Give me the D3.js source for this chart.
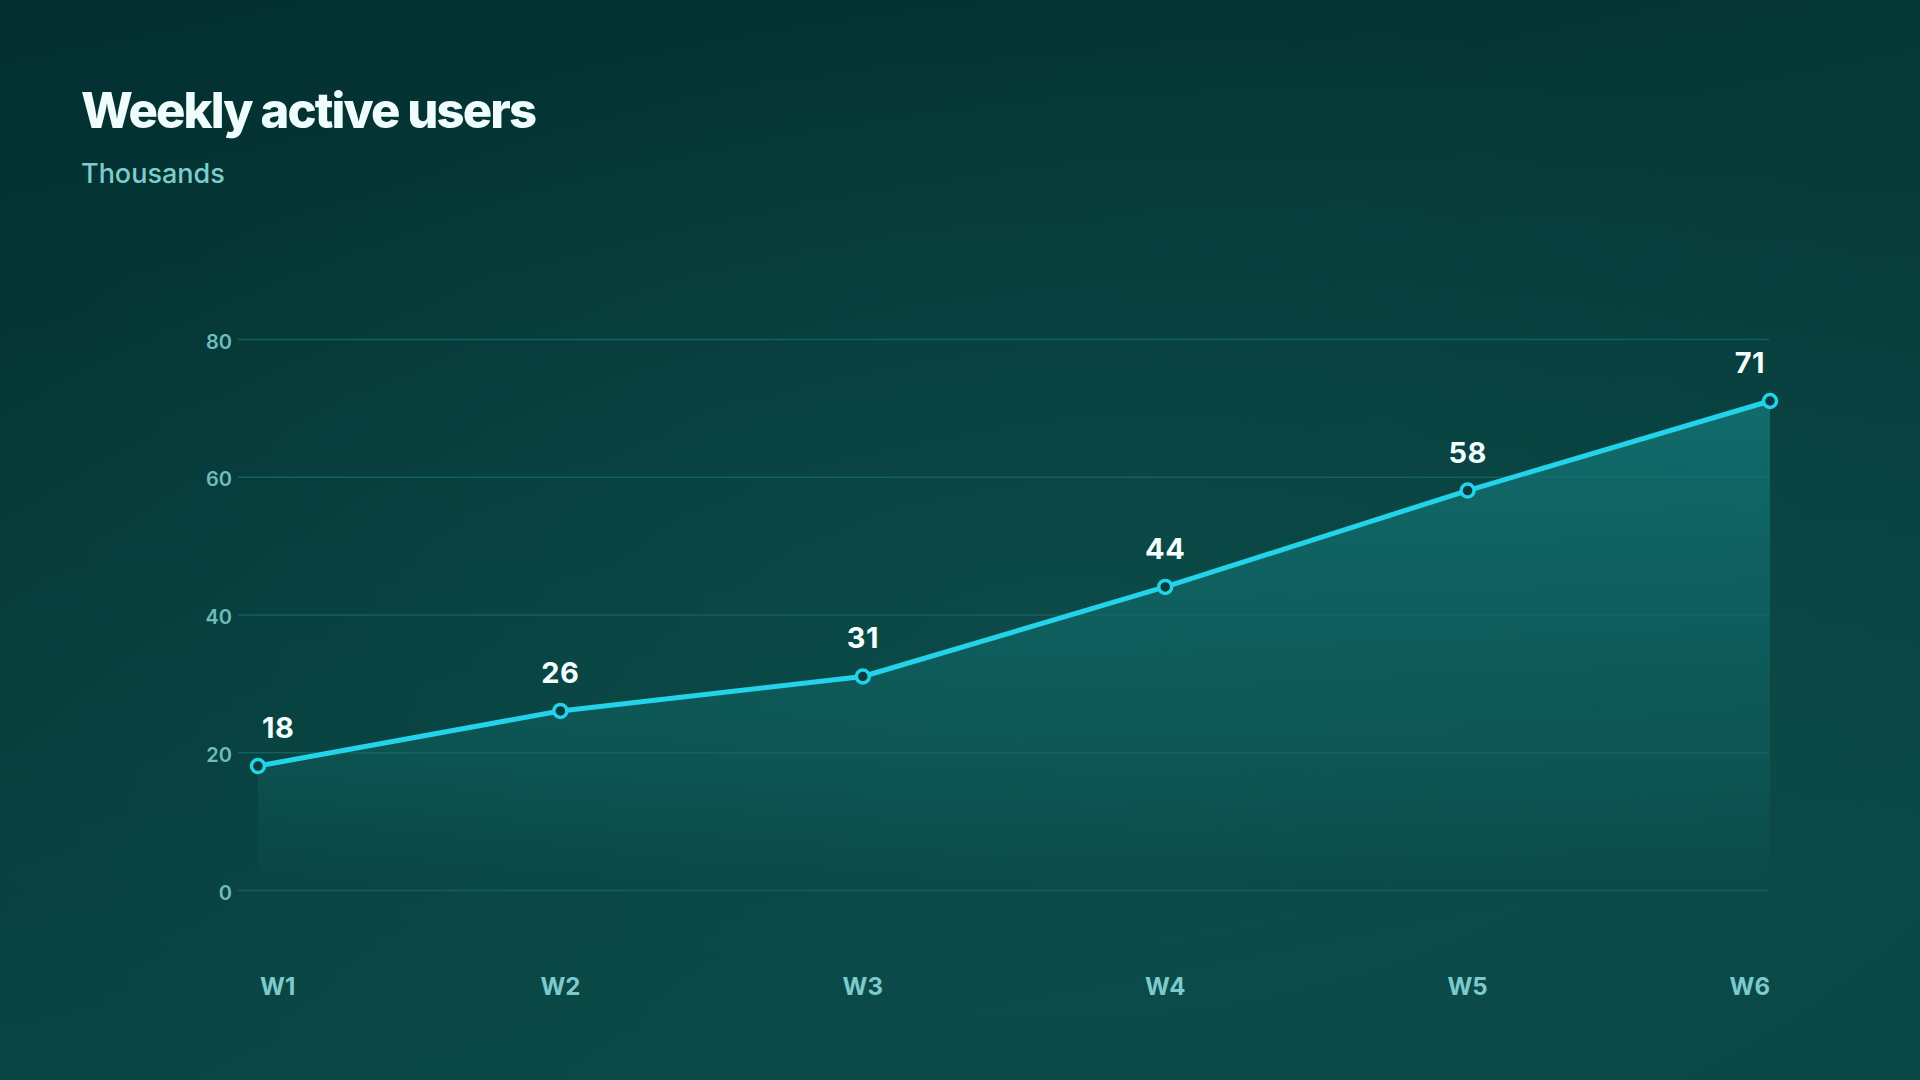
<!DOCTYPE html>
<html>
<head>
<meta charset="utf-8">
<script src="https://cdn.jsdelivr.net/npm/d3@7"></script>
<style>
  html, body { margin: 0; padding: 0; background: #05312f; }
  svg { display: block; }
</style>
</head>
<body>
<svg></svg>
<script>
const weeks = ["W1", "W2", "W3", "W4", "W5", "W6"];
const users = [18, 26, 31, 44, 58, 71];
const yTicks = [0, 20, 40, 60, 80];

const width = 1920;
const height = 1080;

const svg = d3.select("svg")
    .attr("width", width)
    .attr("height", height)
    .attr("viewBox", [0, 0, width, height])
    .style("font-family", "Inter, 'Noto Sans', sans-serif");

const defs = svg.append("defs");

const bg = defs.append("linearGradient")
    .attr("id", "bg")
    .attr("x1", 0).attr("y1", 0).attr("x2", 0.35).attr("y2", 1);
bg.append("stop").attr("offset", "0%").attr("stop-color", "#032f2f");
bg.append("stop").attr("offset", "100%").attr("stop-color", "#0a4846");

const glow = defs.append("radialGradient")
    .attr("id", "glow")
    .attr("cx", 0.55).attr("cy", 0.6).attr("r", 0.6);
glow.append("stop").attr("offset", "0%").attr("stop-color", "#0e5552").attr("stop-opacity", 0.5);
glow.append("stop").attr("offset", "100%").attr("stop-color", "#0e5552").attr("stop-opacity", 0);

svg.append("rect").attr("width", width).attr("height", height).attr("fill", "url(#bg)");
svg.append("rect").attr("width", width).attr("height", height).attr("fill", "url(#glow)");

const x = d3.scalePoint()
    .domain(weeks)
    .range([258, 1770]);

const y = d3.scaleLinear()
    .domain([0, 80])
    .range([890, 339]);

const areaFill = defs.append("linearGradient")
    .attr("id", "areaFill")
    .attr("gradientUnits", "userSpaceOnUse")
    .attr("x1", 0).attr("y1", y(71)).attr("x2", 0).attr("y2", y(0));
areaFill.append("stop").attr("offset", "0%").attr("stop-color", "#137374").attr("stop-opacity", 0.85);
areaFill.append("stop").attr("offset", "75%").attr("stop-color", "#116b6b").attr("stop-opacity", 0.35);
areaFill.append("stop").attr("offset", "100%").attr("stop-color", "#116b6b").attr("stop-opacity", 0.0);

// title
svg.append("text")
    .attr("x", 81)
    .attr("y", 128)
    .attr("fill", "#effdfd")
    .attr("font-size", 49)
    .attr("font-weight", 800)
    .attr("letter-spacing", -1.9)
    .text("Weekly active users");

svg.append("text")
    .attr("x", 81)
    .attr("y", 183)
    .attr("fill", "#7ecdcd")
    .attr("font-size", 27)
    .attr("font-weight", 500)
    .text("Thousands");

// grid
const yAxis = svg.append("g")
    .attr("transform", "translate(238,0)")
    .call(d3.axisLeft(y).tickValues(yTicks).tickSize(-(1769 - 238)).tickPadding(6));
yAxis.select(".domain").remove();
yAxis.selectAll(".tick line")
    .attr("stroke", "#12605f")
    .attr("stroke-width", 1.5);
yAxis.selectAll(".tick text")
    .attr("fill", "#6fbcbd")
    .attr("font-size", 20)
    .attr("font-weight", 600)
    .attr("dy", "0.45em")
    .attr("font-family", "Inter, 'Noto Sans', sans-serif");

const data = weeks.map((w, i) => ({ week: w, value: users[i], i }));

const area = d3.area()
    .x(d => x(d.week))
    .y0(y(0))
    .y1(d => y(d.value));

svg.append("path")
    .datum(data)
    .attr("d", area)
    .attr("fill", "url(#areaFill)");

const line = d3.line()
    .x(d => x(d.week))
    .y(d => y(d.value));

svg.append("path")
    .datum(data)
    .attr("d", line)
    .attr("fill", "none")
    .attr("stroke", "#22d3ea")
    .attr("stroke-width", 5)
    .attr("stroke-linejoin", "round");

svg.selectAll("circle.pt")
    .data(data)
    .join("circle")
    .attr("class", "pt")
    .attr("cx", d => x(d.week))
    .attr("cy", d => y(d.value))
    .attr("r", 6.5)
    .attr("fill", "#073b3b")
    .attr("stroke", "#22d3ea")
    .attr("stroke-width", 3.5);

const anchor = d => d.i === 0 ? "start" : d.i === data.length - 1 ? "end" : "middle";
const nudge = d => d.i === 0 ? 4 : d.i === data.length - 1 ? -5 : 0;

svg.selectAll("text.val")
    .data(data)
    .join("text")
    .attr("class", "val")
    .attr("x", d => x(d.week) + nudge(d))
    .attr("y", d => y(d.value) - 28)
    .attr("text-anchor", anchor)
    .attr("fill", "#f4ffff")
    .attr("font-size", 29)
    .attr("font-weight", 700)
    .attr("letter-spacing", 0.5)
    .text(d => d.value);

svg.selectAll("text.wk")
    .data(data)
    .join("text")
    .attr("class", "wk")
    .attr("x", d => x(d.week) + (d.i === 0 ? 2 : 0))
    .attr("y", 995)
    .attr("text-anchor", anchor)
    .attr("fill", "#7ccacc")
    .attr("font-size", 24)
    .attr("font-weight", 700)
    .text(d => d.week);
</script>
</body>
</html>
